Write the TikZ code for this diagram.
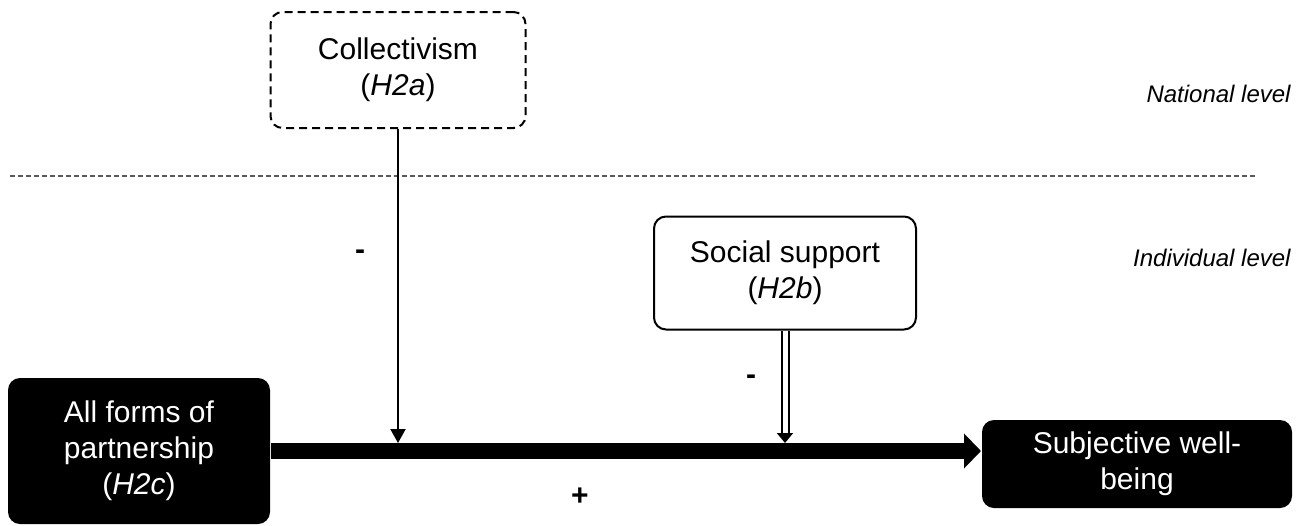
\documentclass[tikz,border=0pt]{standalone}
\usepackage{fontspec}
\setmainfont{Liberation Sans}
\usepackage{tikz}
\usetikzlibrary{arrows.meta}
\usetikzlibrary{positioning}

\begin{document}
\begin{tikzpicture}[x=0.5pt,y=-0.5pt,
  box/.style={rectangle,rounded corners=6pt,line width=1pt,align=center,
    font=\fontsize{15}{18}\selectfont,inner sep=0pt},
  natbox/.style={box,draw,dash pattern=on 4pt off 2.5pt},
  indbox/.style={box,draw},
  blackbox/.style={box,fill=black,text=white},
  lvl/.style={font=\fontsize{12}{14}\selectfont\itshape,anchor=east,inner sep=0pt},
  sign/.style={font=\fontsize{15}{18}\selectfont\bfseries},
  modarrow/.style={line width=1pt,-{Triangle[length=7pt,width=7.5pt]}}]
  \useasboundingbox (0,0) rectangle (1306,525);
  \node[natbox,minimum width=127.5pt,minimum height=58pt] (coll) at (398,70) {Collectivism\\(\textit{H2a})};
  \node[indbox,minimum width=131pt,minimum height=56.5pt] (soc) at (785,273) {Social support\\(\textit{H2b})};
  \node[blackbox,minimum width=131pt,minimum height=73pt] (part) at (139,451) {All forms of\\partnership\\(\textit{H2c})};
  \node[blackbox,minimum width=155pt,minimum height=44pt] (swb) at (1137,464) {Subjective well-\\being};
  \node[lvl] (nat) at (1291,94) {National level};
  \node[lvl] (ind) at (1291,258) {Individual level};
  \coordinate (dl) at (10,176);
  \coordinate (dr) at (1255,176);
  \draw[black!65,line width=0.75pt,dash pattern=on 2.5pt off 1.5pt] (dl) -- (dr);
  \draw[line width=8pt,-{Triangle[length=8.5pt,width=17pt]}] (part.east) -- (part.east -| swb.west);
  \coordinate (hit1) at (coll.south |- part.east);
  \coordinate (hit2) at (soc.south |- part.east);
  \draw[modarrow] (coll.south) -- ([yshift=4pt]hit1);
  \draw[line width=1pt,double,double distance=2.5pt,-{Triangle[length=5pt,width=8pt]}] (soc.south) -- ([yshift=4pt]hit2);
  \node[sign] (minus1) at (360,255) {-};
  \node[sign] (minus2) at (751,380) {-};
  \node[sign] (plus) at (580,497) {+};
\end{tikzpicture}
\end{document}
